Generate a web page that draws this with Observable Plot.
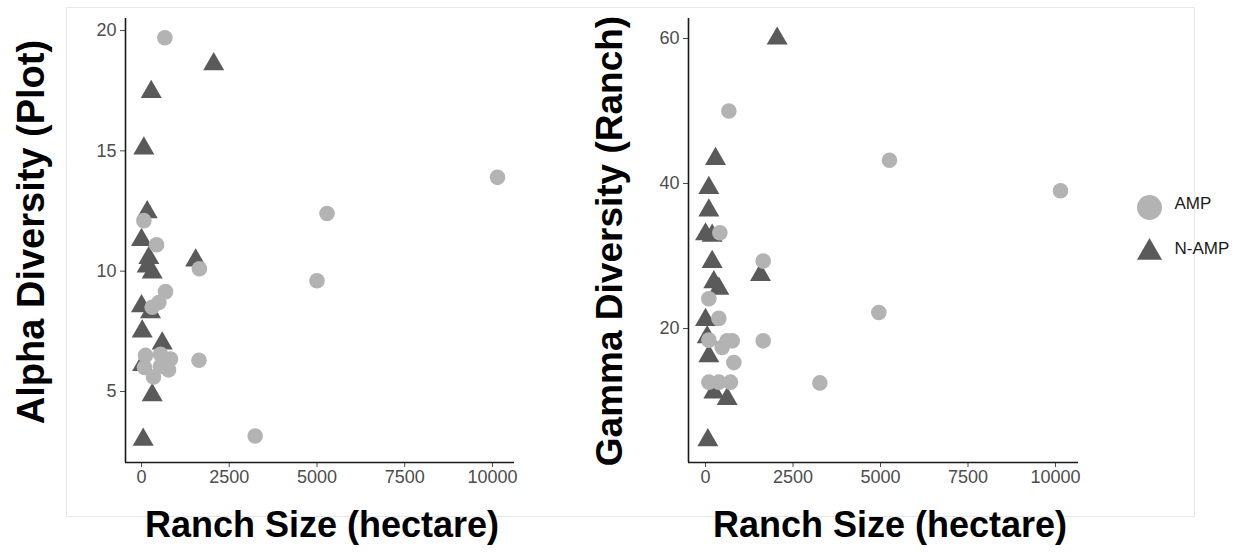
<!DOCTYPE html>
<html>
<head>
<meta charset="utf-8">
<script src="https://cdn.jsdelivr.net/npm/d3@7"></script>
<script src="https://cdn.jsdelivr.net/npm/@observablehq/plot@0.6"></script>
<style>
  body { margin: 0; background: #fff; }
  #chart { position: relative; width: 1242px; height: 552px; overflow: hidden; background: #fff;
           font-family: "Liberation Sans", Arial, Helvetica, sans-serif; }
  #chart .frame { position: absolute; left: 66px; top: 7px; width: 1129px; height: 510px;
                  border: 1px solid #e8e8e8; box-sizing: border-box; }
  #chart .panel { position: absolute; top: 0; }
  #chart .title { position: absolute; font-weight: bold; color: #000; white-space: nowrap;
                  line-height: 1; transform: translate(-50%, -50%); }
  #chart .title.vertical { transform: translate(-50%, -50%) rotate(-90deg); }
</style>
</head>
<body>
<div id="chart">
  <div class="frame"></div>
</div>
<script>
// Ranch management groups and their marks
const groups = ["AMP", "N-AMP"];
const groupSymbols = ["circle", "triangle"];
const groupFills = ["#b3b3b3", "#5a5a5a"];

// Alpha diversity (plot level) against ranch size, AMP ranches
const alphaAmpHa = [666, 67, 429, 1650, 684, 494, 305, 114, 541, 826, 86, 541, 342, 769, 1638, 3238, 10143, 5286, 5000];
const alphaAmp   = [19.7, 12.1, 11.1, 10.1, 9.15, 8.7, 8.5, 6.5, 6.55, 6.35, 6.0, 6.05, 5.6, 5.9, 6.3, 3.15, 13.9, 12.4, 9.6];

// Alpha diversity, N-AMP ranches
const alphaNampHa = [2057, 277, 67, 163, 0, 209, 162, 305, 1543, 0, 257, 20, 590, 30, 305, 48];
const alphaNamp   = [18.6, 17.45, 15.1, 12.45, 11.3, 10.55, 10.2, 9.95, 10.45, 8.55, 8.3, 7.5, 7.0, 6.1, 4.85, 3.0];

// Gamma diversity (ranch level) against ranch size, AMP ranches
const gammaAmpHa = [667, 410, 1648, 95, 381, 4952, 95, 476, 619, 762, 1648, 810, 95, 381, 714, 3267, 5257, 10143];
const gammaAmp   = [50.0, 33.2, 29.3, 24.1, 21.4, 22.2, 18.4, 17.4, 18.3, 18.3, 18.3, 15.3, 12.6, 12.6, 12.6, 12.5, 43.2, 39.0];

// Gamma diversity, N-AMP ranches
const gammaNampHa = [2047, 286, 95, 95, 0, 190, 190, 1571, 238, 381, 0, 48, 95, 238, 619, 67];
const gammaNamp   = [60.0, 43.4, 39.4, 36.3, 33.0, 32.8, 29.2, 27.4, 26.4, 25.5, 21.2, 18.8, 16.2, 11.2, 10.3, 4.6];

// Tick values
const sizeTicks = [0, 2500, 5000, 7500, 10000];
const alphaTicks = [5, 10, 15, 20];
const gammaTicks = [20, 40, 60];

const chart = document.getElementById("chart");

function scatter({ampX, ampY, nampX, nampY, xDomain, yDomain, yTicks, marginLeft, marginRight}) {
  const axisStroke = "#1a1a1a";
  return Plot.plot({
    width: 560,
    height: 500,
    marginTop: 18,
    marginBottom: 38,
    marginLeft,
    marginRight,
    x: {domain: xDomain},
    y: {domain: yDomain},
    style: {
      background: "transparent",
      fontFamily: "'Liberation Sans', Arial, Helvetica, sans-serif",
      fontSize: "18px",
      color: "#4d4d4d",
      overflow: "visible"
    },
    marks: [
      Plot.axisX({ticks: sizeTicks, tickSize: 5, tickPadding: 3, label: null, tickFormat: d3.format("d")}),
      Plot.axisY({ticks: yTicks, tickSize: 5, tickPadding: 4, label: null, tickFormat: d3.format("d")}),
      Plot.ruleX([xDomain[0]], {y1: yDomain[0], y2: yDomain[1], stroke: axisStroke, strokeWidth: 1.6}),
      Plot.ruleY([yDomain[0]], {x1: xDomain[0], x2: xDomain[1], stroke: axisStroke, strokeWidth: 1.6}),
      Plot.dot(nampY, {x: nampX, y: nampY, symbol: groupSymbols[1], r: 7.8, fill: groupFills[1]}),
      Plot.dot(ampY, {x: ampX, y: ampY, symbol: groupSymbols[0], r: 7.8, fill: groupFills[0]})
    ]
  });
}

const left = scatter({
  ampX: alphaAmpHa, ampY: alphaAmp, nampX: alphaNampHa, nampY: alphaNamp,
  xDomain: [-456, 10627], yDomain: [2.05, 20.5], yTicks: alphaTicks,
  marginLeft: 125, marginRight: 46
});
left.classList.add("panel");
left.style.left = "0px";
chart.appendChild(left);

const right = scatter({
  ampX: gammaAmpHa, ampY: gammaAmp, nampX: gammaNampHa, nampY: gammaNamp,
  xDomain: [-486, 10657], yDomain: [1.52, 62.76], yTicks: gammaTicks,
  marginLeft: 128, marginRight: 42
});
right.classList.add("panel");
right.style.left = "560px";
chart.appendChild(right);

// Legend: one key per management group
const legend = Plot.plot({
  width: 122,
  height: 110,
  margin: 0,
  x: {type: "point", domain: ["key", "label"], range: [29, 54], padding: 0, axis: null},
  y: {type: "point", domain: groups, range: [37, 82], padding: 0, axis: null},
  style: {background: "transparent", fontFamily: "'Liberation Sans', Arial, Helvetica, sans-serif", fontSize: "17px", color: "#1a1a1a", overflow: "visible"},
  marks: [
    Plot.dot(groups, {filter: d => d === groups[0], x: () => "key", y: d => d, symbol: groupSymbols[0], r: 12.5, fill: groupFills[0]}),
    Plot.dot(groups, {filter: d => d === groups[1], x: () => "key", y: d => d, symbol: groupSymbols[1], r: 9.3, fill: groupFills[1]}),
    Plot.text(groups, {x: () => "label", y: d => d, text: d => d, textAnchor: "start", dy: -4, fill: "#1a1a1a"})
  ]
});
legend.classList.add("panel");
legend.style.left = "1120px";
legend.style.top = "170px";
chart.appendChild(legend);

// Axis titles
function title(text, cx, cy, size, vertical) {
  const el = document.createElement("div");
  el.className = "title" + (vertical ? " vertical" : "");
  el.textContent = text;
  el.style.left = cx + "px";
  el.style.top = cy + "px";
  el.style.fontSize = size + "px";
  chart.appendChild(el);
}
title("Alpha Diversity (Plot)", 31, 232, 38, true);
title("Gamma Diversity (Ranch)", 609, 241, 37, true);
title("Ranch Size (hectare)", 322, 525, 36, false);
title("Ranch Size (hectare)", 890, 525, 36, false);
</script>
</body>
</html>
